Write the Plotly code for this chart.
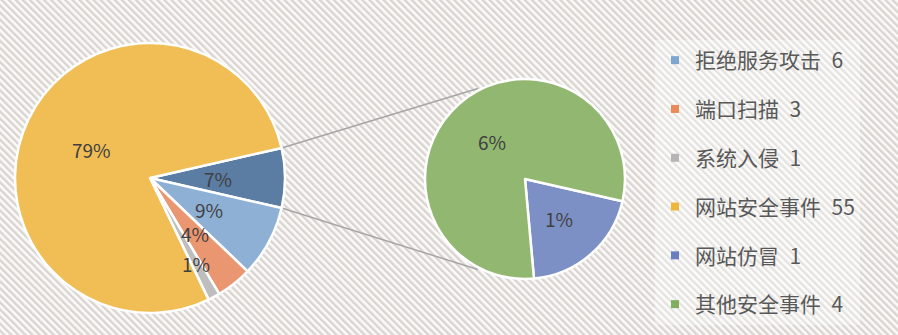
import math
import base64
import plotly.graph_objects as go

# ---------------- data ----------------
main_labels = ["拒绝服务攻击", "端口扫描", "系统入侵", "网站安全事件"]
main_values = [6, 3, 1, 55]
sub_labels = ["网站仿冒", "其他安全事件"]
sub_values = [1, 4]

# ---------------- style ----------------
W, H = 898, 335
FONT = "Noto Sans CJK SC"
main_colors = ["#8FB0D5", "#EA9670", "#BEBEBE", "#F0BE55"]
other_color = "#5B7CA3"
sub_colors = ["#7D90C6", "#92B771"]
legend_colors = ["#7EA6D0", "#E98A5A", "#B5B5B5", "#F0B63A", "#6A7FC0", "#80AD5E"]

MAIN_C, MAIN_R = (150, 178), 135
SUB_C, SUB_R = (525, 179), 100
CONNECT_OFFSET = 62.5  # degrees from 9 o'clock on secondary pie
main_label_frac = [0.5, 0.5, 0.53, 0.72, 0.48]
sub_label_frac = [0.52, 0.5]

other_total = sum(sub_values)
total = sum(main_values) + other_total

pie_main_labels = ["其他"] + main_labels
pie_main_values = [other_total] + main_values
pie_main_colors = [other_color] + main_colors

half_other = 360.0 * other_total / total / 2
main_rotation = 90 - half_other
sub_rotation = 90 + half_other


def domain(c, r):
    cx, cy = c
    return dict(x=[(cx - r) / W, (cx + r) / W], y=[1 - (cy + r) / H, 1 - (cy - r) / H])


def polar(c, r, ang):
    cx, cy = c
    a = math.radians(ang)
    px = cx + r * math.sin(a)
    py = cy - r * math.cos(a)
    return px / W, 1 - py / H


def mids(values, rot):
    s = sum(values)
    out = []
    cur = rot
    for v in values:
        span = 360.0 * v / s
        out.append(cur + span / 2)
        cur += span
    return out


fig = go.Figure()

fig.add_trace(go.Pie(
    labels=pie_main_labels, values=pie_main_values, sort=False,
    direction="clockwise", rotation=main_rotation,
    marker=dict(colors=pie_main_colors, line=dict(color="white", width=2.5)),
    textinfo="none", hoverinfo="label+value", showlegend=False,
    domain=domain(MAIN_C, MAIN_R),
))
fig.add_trace(go.Pie(
    labels=sub_labels, values=sub_values, sort=False,
    direction="clockwise", rotation=sub_rotation,
    marker=dict(colors=sub_colors, line=dict(color="white", width=2.5)),
    textinfo="none", hoverinfo="label+value", showlegend=False,
    domain=domain(SUB_C, SUB_R),
))

# legend entries
legend_labels = main_labels + sub_labels
legend_values = main_values + sub_values
for lab, val, col in zip(legend_labels, legend_values, legend_colors):
    fig.add_trace(go.Scatter(
        x=[None], y=[None], mode="markers",
        marker=dict(symbol="square", size=8, color=col),
        name=f"{lab}\u2002{val}", legendgroup=lab, showlegend=True,
    ))

label_font = dict(family=FONT, size=19, color="#404040")
annotations = []
for v, m, f in zip(pie_main_values, mids(pie_main_values, main_rotation), main_label_frac):
    x, y = polar(MAIN_C, MAIN_R * f, m)
    annotations.append(dict(x=x, y=y, xref="paper", yref="paper", xanchor="center",
                            yanchor="middle", text=f"{round(v / total * 100)}%",
                            showarrow=False, font=label_font))
for v, m, f in zip(sub_values, mids(sub_values, sub_rotation), sub_label_frac):
    x, y = polar(SUB_C, SUB_R * f, m)
    annotations.append(dict(x=x, y=y, xref="paper", yref="paper", xanchor="center",
                            yanchor="middle", text=f"{round(v / total * 100)}%",
                            showarrow=False, font=label_font))

# connector lines
shapes = []
for sgn in (-1, 1):
    x0, y0 = polar(MAIN_C, MAIN_R, 90 + sgn * half_other)
    x1, y1 = polar(SUB_C, SUB_R * 1.02, 270 - sgn * CONNECT_OFFSET)
    shapes.append(dict(type="line", xref="paper", yref="paper", x0=x0, y0=y0, x1=x1, y1=y1,
                       line=dict(color="#A6A6A6", width=1.5), layer="below"))

svg = (f'<svg xmlns="http://www.w3.org/2000/svg" width="{W}" height="{H}">'
       '<defs><pattern id="p" width="5" height="5" patternUnits="userSpaceOnUse" '
       'patternTransform="rotate(-45)"><rect width="5" height="5" fill="#fbfaf9"/>'
       '<rect width="2.4" height="5" fill="#d8d4d0"/></pattern></defs>'
       f'<rect width="{W}" height="{H}" fill="url(#p)"/></svg>')
uri = "data:image/svg+xml;base64," + base64.b64encode(svg.encode()).decode()

fig.update_layout(
    width=W, height=H,
    margin=dict(l=0, r=0, t=0, b=0),
    paper_bgcolor="white", plot_bgcolor="rgba(0,0,0,0)",
    xaxis=dict(visible=False), yaxis=dict(visible=False),
    images=[dict(source=uri, xref="paper", yref="paper", x=0, y=1, sizex=1, sizey=1,
                 xanchor="left", yanchor="top", sizing="stretch", layer="below")],
    annotations=annotations,
    shapes=shapes,
    legend=dict(x=655 / W, y=1 - 40 / H, xanchor="left", yanchor="top",
                font=dict(family=FONT, size=21, color="#595959"),
                bgcolor="rgba(255,255,255,0.35)", tracegroupgap=18.5,
                itemwidth=30),
    showlegend=True,
    font=dict(family=FONT),
)

fig.write_html("out.html")
